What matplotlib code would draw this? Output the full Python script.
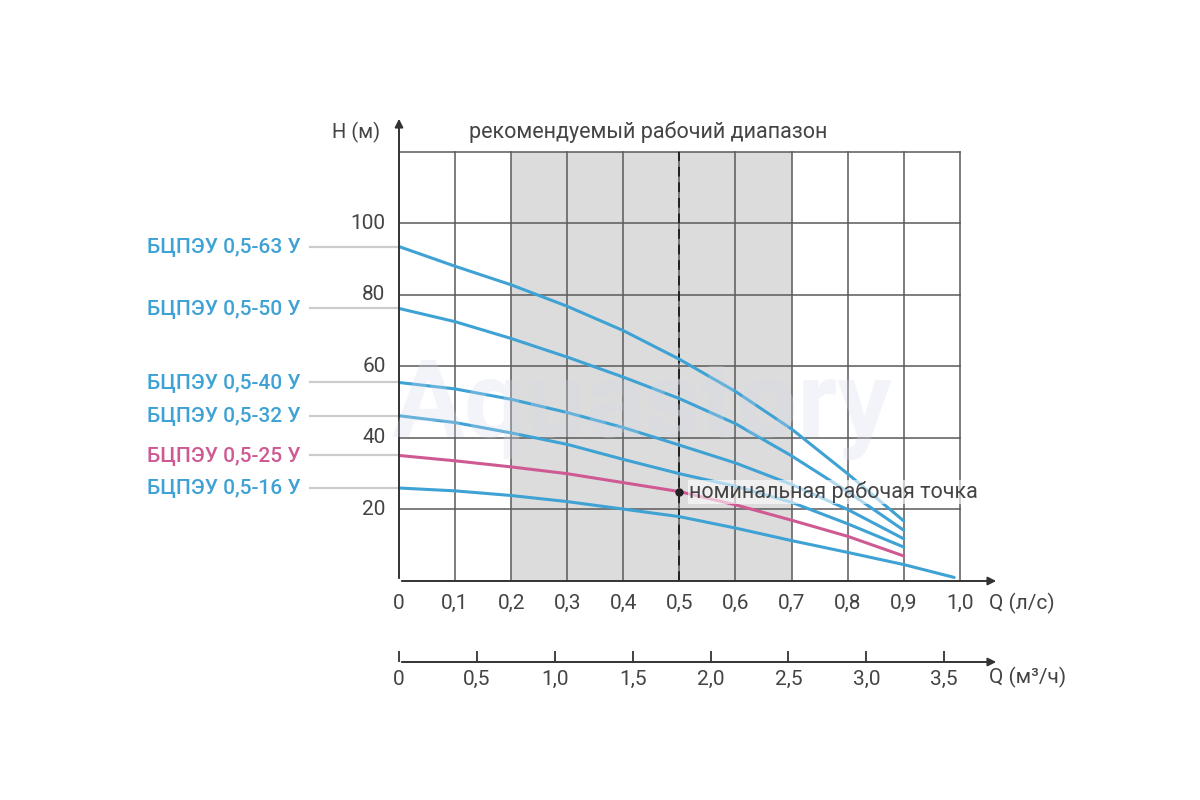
import matplotlib
matplotlib.use("Agg")
import matplotlib.pyplot as plt
import numpy as np

plt.rcParams['font.family'] = ['Roboto', 'DejaVu Sans']

# ---- data ----
q_ls = [0.0, 0.1, 0.2, 0.3, 0.4, 0.5, 0.6, 0.7, 0.8, 0.9]
q_ls16 = [0.0, 0.1, 0.2, 0.3, 0.4, 0.5, 0.6, 0.7, 0.8, 0.9, 0.99]
h63 = [93.5, 88.0, 82.8, 76.8, 70.0, 62.0, 53.0, 42.5, 30.0, 16.8]
h50 = [76.2, 72.5, 67.8, 62.6, 57.0, 51.0, 44.0, 35.0, 25.0, 14.2]
h40 = [55.5, 53.7, 50.8, 47.1, 42.9, 38.0, 33.0, 27.0, 20.0, 11.8]
h32 = [46.2, 44.3, 41.4, 38.2, 34.0, 30.0, 26.5, 22.0, 16.0, 9.5]
h25 = [35.1, 33.6, 31.9, 30.0, 27.5, 25.0, 21.3, 17.0, 12.5, 7.0]
h16 = [26.0, 25.2, 23.9, 22.2, 20.1, 18.0, 14.8, 11.3, 8.0, 4.6, 1.0]

names = ["БЦПЭУ 0,5-63 У", "БЦПЭУ 0,5-50 У", "БЦПЭУ 0,5-40 У",
         "БЦПЭУ 0,5-32 У", "БЦПЭУ 0,5-25 У", "БЦПЭУ 0,5-16 У"]
series = [(q_ls, h63), (q_ls, h50), (q_ls, h40), (q_ls, h32), (q_ls, h25), (q_ls16, h16)]
BLUE = '#3fa2d4'
PINK = '#cf5a93'
colors = [BLUE, BLUE, BLUE, BLUE, PINK, BLUE]

x_ticks = [0.0, 0.1, 0.2, 0.3, 0.4, 0.5, 0.6, 0.7, 0.8, 0.9, 1.0]
x_labels = ["0", "0,1", "0,2", "0,3", "0,4", "0,5", "0,6", "0,7", "0,8", "0,9", "1,0"]
y_ticks = [20, 40, 60, 80, 100]
m3_ticks = [0.0, 0.5, 1.0, 1.5, 2.0, 2.5, 3.0, 3.5]
m3_labels = ["0", "0,5", "1,0", "1,5", "2,0", "2,5", "3,0", "3,5"]
range_lo, range_hi = 0.2, 0.7
nominal_q, nominal_h = 0.5, 25.0

TXT = '#444444'
GRID = '#5a5a5a'

fig = plt.figure(figsize=(12, 8), dpi=100)
fig.patch.set_facecolor('white')

XMAX, YMAX = 1.07, 130
ax = fig.add_axes([399/1200, (800-581)/800, 600/1200, 465/800])
ax.set_xlim(0, XMAX)
ax.set_ylim(0, YMAX)
for s in ax.spines.values():
    s.set_visible(False)
ax.set_xticks([]); ax.set_yticks([])

# watermark
fig.text(0.535, 0.49, "Aquastory", fontsize=78, fontweight='bold', color='#d3dbea',
         alpha=0.28, ha='center', va='center', zorder=0)

# recommended range shading
ax.axvspan(range_lo, range_hi, ymin=0, ymax=120/YMAX, color='#dcdcdc', zorder=1, lw=0)

# grid
for xv in x_ticks[1:]:
    ax.plot([xv, xv], [0, 120], color=GRID, lw=1.1, zorder=2)
for yv in y_ticks + [120]:
    ax.plot([0, 1.0], [yv, yv], color=GRID, lw=1.1, zorder=2)

# dashed nominal line
ax.plot([nominal_q, nominal_q], [0, 120], color='#222222', lw=1.4, ls=(0, (5, 3)), zorder=3)

# axes with arrows
ax.annotate('', xy=(XMAX, 0), xytext=(0, 0),
            arrowprops=dict(arrowstyle='-|>', color='#333333', lw=1.4, mutation_scale=12),
            annotation_clip=False, zorder=5)
ax.annotate('', xy=(0, YMAX), xytext=(0, 0),
            arrowprops=dict(arrowstyle='-|>', color='#333333', lw=1.4, mutation_scale=12),
            annotation_clip=False, zorder=5)

# curves
for (qq, hh), c in zip(series, colors):
    ax.plot(qq, hh, color=c, lw=2.2, zorder=4, solid_capstyle='round', solid_joinstyle='round')

# left labels with leader lines
for (qq, hh), c, nm in zip(series, colors, names):
    ax.plot([-0.159, 0], [hh[0], hh[0]], color='#cccccc', lw=1.6, clip_on=False, zorder=3)
    ax.text(-0.176, hh[0], nm, color=c, fontsize=15, fontweight='medium',
            ha='right', va='center', clip_on=False)

# tick labels
for yv in y_ticks:
    ax.text(-0.024, yv, str(yv), color=TXT, fontsize=15, ha='right', va='center')
for xv, lb in zip(x_ticks, x_labels):
    ax.text(xv, -6.2, lb, color=TXT, fontsize=15, ha='center', va='center')
ax.text(1.053, -6.2, "Q (л/с)", color=TXT, fontsize=15, ha='left', va='center')
ax.text(-0.034, 125.5, "H (м)", color=TXT, fontsize=14.5, ha='right', va='center')
ax.text(0.444, 125.5, "рекомендуемый рабочий диапазон", color=TXT, fontsize=15.5,
        ha='center', va='center')

# nominal point
ax.plot([nominal_q], [nominal_h], 'o', color='#222222', ms=5, zorder=6)
ax.text(nominal_q + 0.017, nominal_h, "номинальная рабочая точка", color=TXT, fontsize=15.5,
        ha='left', va='center', zorder=5,
        bbox=dict(boxstyle='square,pad=0.05', fc='white', ec='none', alpha=0.6))

# secondary axis (m3/h)
ax2 = fig.add_axes([399/1200, (800-662)/800, 600/1200, 0.0001])
ax2.set_xlim(0, XMAX * 3.6)
ax2.set_ylim(0, 1)
for k in ['top', 'left', 'right', 'bottom']:
    ax2.spines[k].set_visible(False)
ax2.set_yticks([])
ax2.set_xticks(m3_ticks)
ax2.set_xticklabels(m3_labels)
ax2.tick_params(axis='x', direction='in', length=8, width=1.3, color='#333333',
                labelsize=15, labelcolor=TXT, pad=6)
ax2.patch.set_alpha(0)
ax2.annotate('', xy=(XMAX * 3.6, 0), xytext=(0, 0),
             arrowprops=dict(arrowstyle='-|>', color='#333333', lw=1.4, mutation_scale=12),
             annotation_clip=False)
ax.text(1.053, -27.0, "Q (м³/ч)", color=TXT, fontsize=15, ha='left', va='center', clip_on=False)

fig.savefig('out.png', dpi=100)
